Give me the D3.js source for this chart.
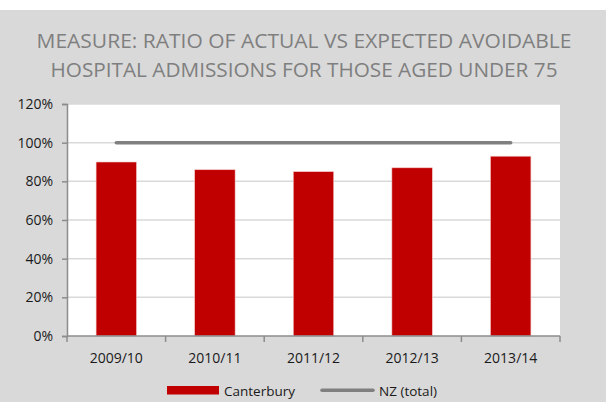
<!DOCTYPE html>
<html>
<head>
<meta charset="utf-8">
<script src="https://cdn.jsdelivr.net/npm/d3@7"></script>
<style>
  html, body { margin: 0; padding: 0; background: #fff; }
  svg { display: block; }
</style>
</head>
<body>
<svg id="chart" width="606" height="402"></svg>
<script>
// Avoidable hospital admissions ratio, Canterbury vs NZ total
const categories = ["2009/10", "2010/11", "2011/12", "2012/13", "2013/14"];
const canterbury = [0.90, 0.86, 0.85, 0.87, 0.93];
const nzTotal = [1.00, 1.00, 1.00, 1.00, 1.00];
const yTicks = [0, 0.2, 0.4, 0.6, 0.8, 1.0, 1.2];
const titleLines = [
  "MEASURE: RATIO OF ACTUAL VS EXPECTED AVOIDABLE",
  "HOSPITAL ADMISSIONS FOR THOSE AGED UNDER 75"
];
const seriesNames = ["Canterbury", "NZ (total)"];

const W = 606, H = 402;
const plot = { left: 67, right: 560, top: 104, bottom: 336 };
const font = "'Open Sans', 'Liberation Sans', sans-serif";

const svg = d3.select("#chart");

// grey card below a thin white strip
svg.append("rect").attr("x", 0).attr("y", 10).attr("width", W).attr("height", H - 10).attr("fill", "#d9d9d9");

// title
svg.append("g").selectAll("text").data(titleLines).join("text")
  .attr("x", 304)
  .attr("y", (d, i) => 48 + i * 29)
  .attr("text-anchor", "middle")
  .attr("font-family", font)
  .attr("font-size", 20.5)
  .attr("fill", "#7f7f7f")
  .attr("textLength", (d, i) => i === 0 ? 535 : 507)
  .attr("lengthAdjust", "spacingAndGlyphs")
  .text(d => d);

// plot background
svg.append("rect")
  .attr("x", plot.left).attr("y", plot.top)
  .attr("width", plot.right - plot.left).attr("height", plot.bottom - plot.top)
  .attr("fill", "#fff");

const x = d3.scaleBand().domain(categories).range([plot.left, plot.right]).paddingInner(0).paddingOuter(0);
const y = d3.scaleLinear().domain([0, 1.2]).range([plot.bottom, plot.top]);

// gridlines
svg.append("g").selectAll("line").data(yTicks.filter(t => t > 0)).join("line")
  .attr("x1", plot.left).attr("x2", plot.right)
  .attr("y1", d => y(d)).attr("y2", d => y(d))
  .attr("stroke", "#d9d9d9").attr("stroke-width", 1.5);

// bars
const barW = x.bandwidth() * 0.41;
svg.append("g").selectAll("rect").data(canterbury).join("rect")
  .attr("x", (d, i) => x(categories[i]) + x.bandwidth() / 2 - barW / 2)
  .attr("y", d => y(d))
  .attr("width", barW)
  .attr("height", d => y(0) - y(d))
  .attr("fill", "#c00000")
  .attr("stroke", "#f4c7c7").attr("stroke-width", 0.6);

// NZ total line
const line = d3.line()
  .x((d, i) => x(categories[i]) + x.bandwidth() / 2)
  .y(d => y(d));
svg.append("path").datum(nzTotal)
  .attr("d", line)
  .attr("fill", "none")
  .attr("stroke", "#808080")
  .attr("stroke-width", 3.5)
  .attr("stroke-linecap", "round");

// y axis
const yAxis = svg.append("g")
  .attr("transform", `translate(${plot.left},0)`)
  .call(d3.axisLeft(y).tickValues(yTicks).tickFormat(d3.format(".0%")).tickSize(5).tickPadding(9));
yAxis.select(".domain").attr("stroke", "#8c8c8c").attr("stroke-width", 1.5);
yAxis.selectAll(".tick line").attr("stroke", "#8c8c8c").attr("stroke-width", 1.5);
yAxis.selectAll("text").attr("font-family", font).attr("font-size", 14).attr("fill", "#1a1a1a");

// x axis: ticks on category boundaries
const xAxisG = svg.append("g").attr("transform", `translate(0,${plot.bottom})`);
xAxisG.append("line")
  .attr("x1", plot.left).attr("x2", plot.right)
  .attr("stroke", "#8c8c8c").attr("stroke-width", 1.5);
const bounds = categories.map(c => x(c)).concat([plot.right]);
xAxisG.selectAll("line.tk").data(bounds).join("line")
  .attr("class", "tk")
  .attr("x1", d => d).attr("x2", d => d)
  .attr("y1", 0).attr("y2", 6)
  .attr("stroke", "#8c8c8c").attr("stroke-width", 1.5);
xAxisG.selectAll("text").data(categories).join("text")
  .attr("x", d => x(d) + x.bandwidth() / 2)
  .attr("y", 26.5)
  .attr("text-anchor", "middle")
  .attr("font-family", font).attr("font-size", 14).attr("fill", "#1a1a1a")
  .text(d => d);

// legend
const lg = svg.append("g");
lg.append("rect").attr("x", 167).attr("y", 386).attr("width", 52).attr("height", 8.5).attr("fill", "#c00000");
lg.append("text").attr("x", 224).attr("y", 395.5)
  .attr("font-family", font).attr("font-size", 13.5).attr("fill", "#1a1a1a").text(seriesNames[0]);
lg.append("line").attr("x1", 322).attr("x2", 373).attr("y1", 390.3).attr("y2", 390.3)
  .attr("stroke", "#808080").attr("stroke-width", 3.5).attr("stroke-linecap", "round");
lg.append("text").attr("x", 379).attr("y", 395.5)
  .attr("font-family", font).attr("font-size", 13.5).attr("fill", "#1a1a1a").text(seriesNames[1]);
</script>
</body>
</html>
